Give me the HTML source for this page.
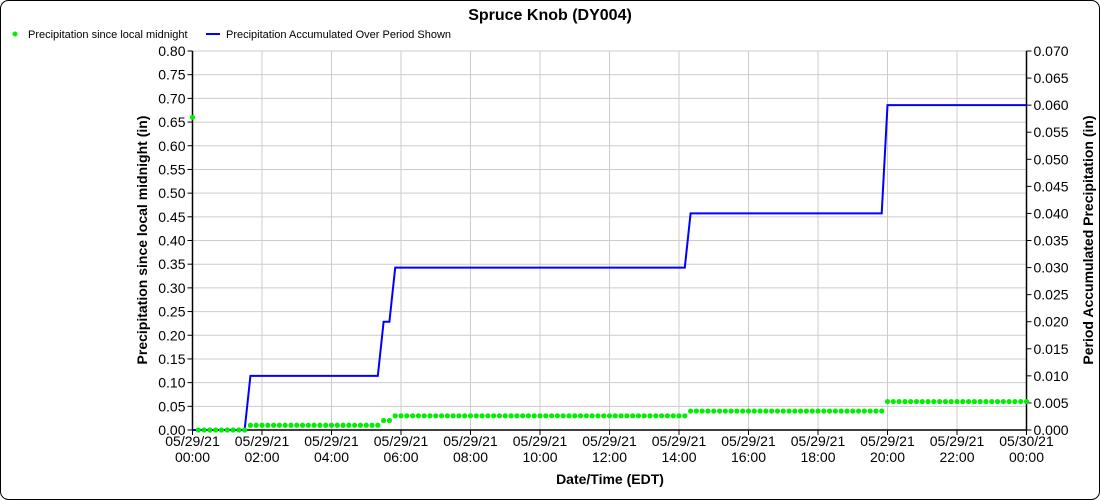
<!DOCTYPE html>
<html><head><meta charset="utf-8"><style>
html,body{margin:0;padding:0;background:#fff;width:1100px;height:500px;overflow:hidden}
svg{display:block;font-family:"Liberation Sans",Arial,sans-serif}
</style></head><body>
<svg id="s" width="1100" height="500" xmlns="http://www.w3.org/2000/svg">
<rect x="0.5" y="0.5" width="1099" height="499" rx="8" fill="#fff" stroke="#000"/>
<text x="550" y="20" text-anchor="middle" font-size="16" font-weight="bold">Spruce Knob (DY004)</text>
<circle cx="15" cy="34" r="2.5" fill="#00ee00"/>
<text x="28" y="38" font-size="11">Precipitation since local midnight</text>
<line x1="206" y1="34" x2="220" y2="34" stroke="#0000ff" stroke-width="2"/>
<text x="226" y="38" font-size="11">Precipitation Accumulated Over Period Shown</text>
<g id="g"></g>
<text transform="translate(147,240) rotate(-90)" text-anchor="middle" font-size="14" font-weight="bold">Precipitation since local midnight (in)</text>
<text transform="translate(1093,240) rotate(-90)" text-anchor="middle" font-size="14" font-weight="bold">Period Accumulated Precipitation (in)</text>
<text x="610" y="484" text-anchor="middle" font-size="14" font-weight="bold">Date/Time (EDT)</text>
</svg>
<script>
var L=192.5,R=1026.5,T=51,B=430,W=R-L,H=B-T,h="";
function X(m){return L+m/1440*W}
function YL(v){return B-v/0.8*H}
function YR(v){return B-v/0.07*H}
for(var i=0;i<=16;i++){var y=B-i*H/16;h+='<line x1="'+L+'" x2="'+R+'" y1="'+y+'" y2="'+y+'" stroke="#ccc"/>';
h+='<line x1="'+(L-5)+'" x2="'+L+'" y1="'+y+'" y2="'+y+'" stroke="#000"/><text x="'+(L-7)+'" y="'+(y+5)+'" text-anchor="end" font-size="14">'+(i*0.05).toFixed(2)+'</text>';}
for(var i=0;i<=14;i++){var y=B-i*H/14;h+='<line x1="'+R+'" x2="'+(R+5)+'" y1="'+y+'" y2="'+y+'" stroke="#000"/><text x="'+(R+7)+'" y="'+(y+5)+'" font-size="14">'+(i*0.005).toFixed(3)+'</text>';}
for(var i=0;i<=12;i++){var x=L+i*W/12;h+='<line x1="'+x+'" x2="'+x+'" y1="'+T+'" y2="'+B+'" stroke="#ccc"/><line x1="'+x+'" x2="'+x+'" y1="'+B+'" y2="'+(B+5)+'" stroke="#000"/>';
var hh=(i*2)%24;h+='<text x="'+x+'" y="'+(B+16)+'" text-anchor="middle" font-size="14">'+(i==12?'05/30/21':'05/29/21')+'</text><text x="'+x+'" y="'+(B+32)+'" text-anchor="middle" font-size="14">'+(hh<10?'0':'')+hh+':00</text>';}
h+='<line x1="'+L+'" x2="'+L+'" y1="'+T+'" y2="'+B+'" stroke="#000" stroke-width="1.5"/><line x1="'+R+'" x2="'+R+'" y1="'+T+'" y2="'+B+'" stroke="#000" stroke-width="1.5"/><line x1="'+L+'" x2="'+R+'" y1="'+B+'" y2="'+B+'" stroke="#000" stroke-width="1.5"/>';
var p=[[0,0],[90,0],[100,.01],[320,.01],[330,.02],[340,.02],[350,.03],[850,.03],[860,.04],[1190,.04],[1200,.06],[1440,.06]];
h+='<polyline fill="none" stroke="#0000ff" stroke-width="2" points="'+p.map(function(a){return X(a[0])+','+YR(a[1])}).join(' ')+'"/>';
for(var m=0;m<=1440;m+=10){var v;if(m==0)v=.66;else if(m<=90)v=0;else if(m<=320)v=.01;else if(m<=340)v=.02;else if(m<=850)v=.03;else if(m<=1190)v=.04;else v=.06;
h+='<circle cx="'+X(m)+'" cy="'+YL(v)+'" r="2.6" fill="#00ee00"/>';}
document.getElementById("g").innerHTML=h;
</script>
</body></html>
